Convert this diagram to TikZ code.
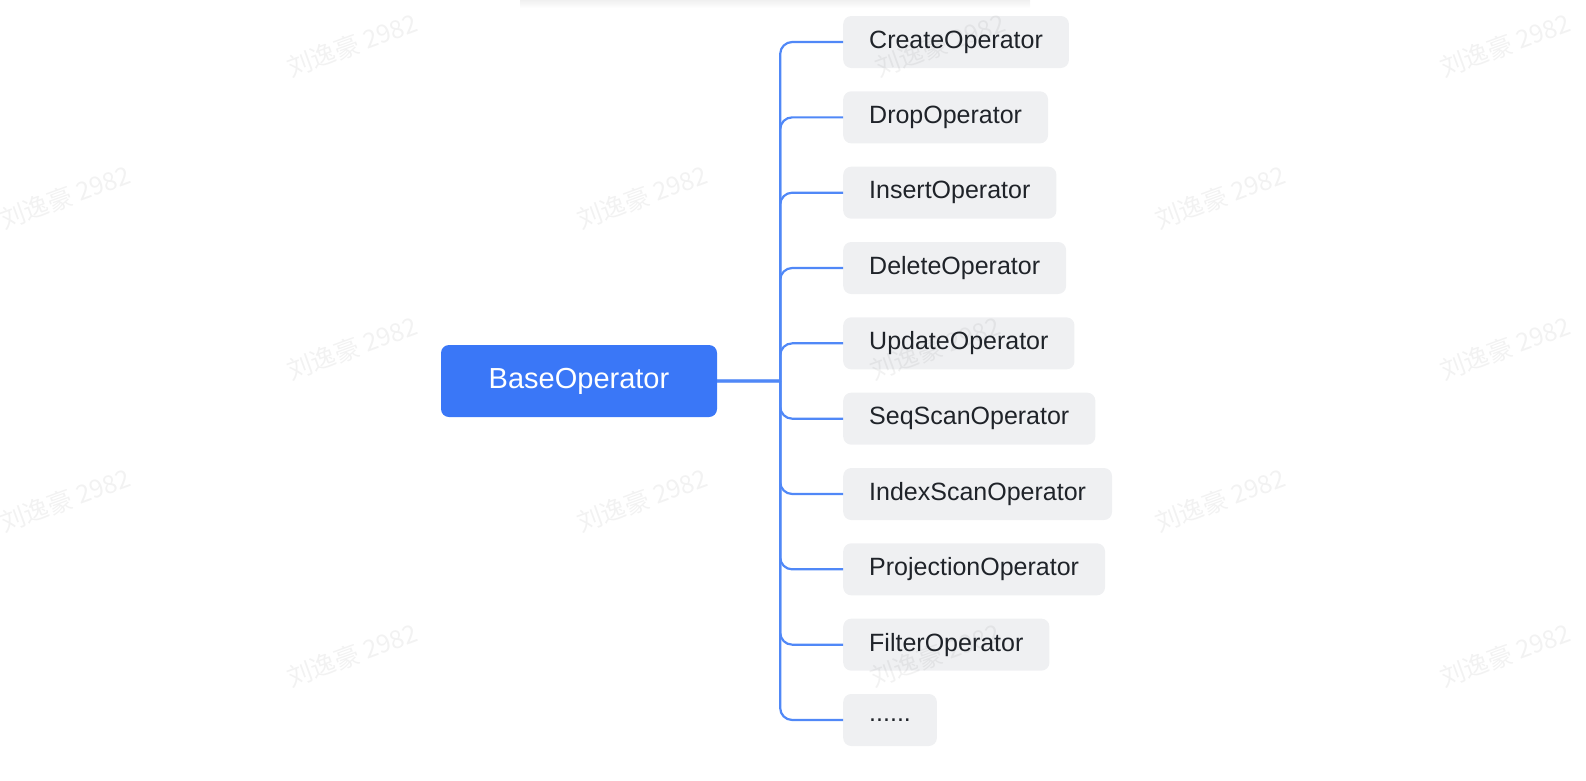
\documentclass[tikz,border=0pt]{standalone}
\usepackage{fontspec}
\setmainfont{Liberation Sans}
\newfontfamily\wmfont{Noto Sans CJK SC}
\usetikzlibrary{trees}

\definecolor{opblue}{HTML}{3A77F7}
\definecolor{oplink}{HTML}{5088F7}
\definecolor{opgray}{HTML}{EFF0F2}
\definecolor{optext}{HTML}{1F2329}

\begin{document}
\begin{tikzpicture}
	  [
	    x                       = 1pt,
	    y                       = 1pt,
	    grow'                   = right,
	    edge from parent/.style = {draw, oplink, line width=2.2pt},
	    edge from parent path   = {(\tikzparentnode.east) -- ++(63,0)
	                               (\tikzparentnode.east) ++(63,0) [rounded corners=12pt] |- (\tikzchildnode.west)},
	    base/.style             = {
			fill=opblue, text=white, rounded corners=8pt,
			minimum width=276pt, minimum height=72pt, inner sep=0pt,
			font=\fontsize{29}{34}\selectfont
		},
	    op/.style               = {
			anchor=west, fill=opgray, text=optext, rounded corners=8pt,
			minimum height=52pt, inner xsep=26pt, inner ysep=0pt,
			font=\fontsize{25}{30}\selectfont
		},
	    wmark/.style            = {
			rotate=20, text=black, text opacity=0.05,
			font=\wmfont\fontsize{25}{30}\selectfont
		},
		level 1/.style			= {
			sibling distance=75.33pt,
			level distance=264pt,
			nodes={op}
		}
		]
		\useasboundingbox (0,0) rectangle (1586,-780);
%		card shadow at the top edge
		\shade[top color=black!6, bottom color=white] (520,0) rectangle (1030,-8);
		\node[base] (base) at (579,-381) {BaseOperator}
		child {
			node (create) {CreateOperator}
		}
		child {
			node (drop) {DropOperator}
		}
		child {
			node (insert) {InsertOperator}
		}
		child {
			node (delete) {DeleteOperator}
		}
		child {
			node (update) {UpdateOperator}
		}
		child {
			node (seqscan) {SeqScanOperator}
		}
		child {
			node (indexscan) {IndexScanOperator}
		}
		child {
			node (projection) {ProjectionOperator}
		}
		child {
			node (filter) {FilterOperator}
		}
		child {
			node (more) {......}
		};
%		watermark
		\foreach \wx/\wy [count=\i] in {352/45, 940/45, 1505/45, 65/197, 642/197, 1220/197,
				352/348, 935/348, 1505/348, 65/500, 642/500, 1220/500,
				352/655, 935/655, 1505/655}
			\node[wmark] (wm\i) at (\wx,-\wy) {刘逸豪 2982};
	\end{tikzpicture}
\end{document}
